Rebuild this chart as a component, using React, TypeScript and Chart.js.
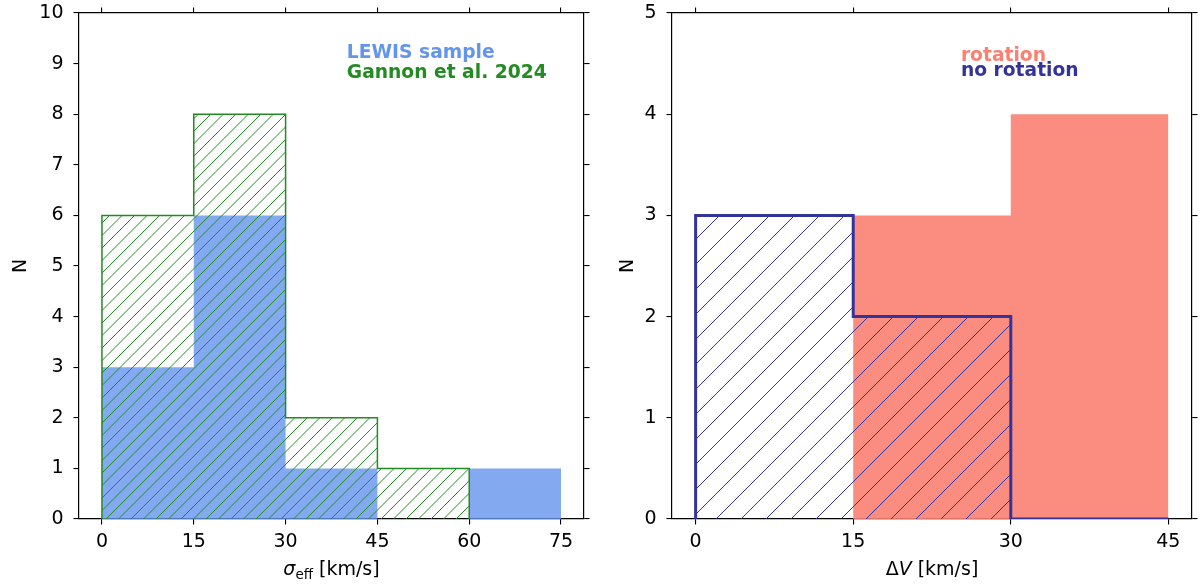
import { useEffect, useRef } from 'react';
import { Chart, registerables } from 'chart.js';

Chart.register(...registerables);

const FONT = 'DejaVu Sans';

// left panel: sigma_eff histograms (bin edges + counts per bin)
const sigmaEdges = [0, 15, 30, 45, 60, 75];
const lewisCounts = [3, 6, 1, 0, 1];
const gannonEdges = [0, 15, 30, 45, 60];
const gannonCounts = [6, 8, 2, 1];
const sigmaTicks = [0, 15, 30, 45, 60, 75];
const leftCountTicks = [0, 1, 2, 3, 4, 5, 6, 7, 8, 9, 10];

// right panel: delta V histograms
const dvEdges = [0, 15, 30, 45];
const rotationCounts = [0, 3, 4];
const noRotationCounts = [3, 2, 0];
const dvTicks = [0, 15, 30, 45];
const rightCountTicks = [0, 1, 2, 3, 4, 5];

const BLUE = '#6495ED';
const GREEN = '#228B22';
const SALMON = '#FA8072';
const NAVY = '#33339a';

// outline of a matplotlib-style step histogram
function stepPoints(edges: number[], counts: number[]) {
  const pts = [{ x: edges[0], y: 0 }];
  counts.forEach((c, i) => {
    pts.push({ x: edges[i], y: c });
    pts.push({ x: edges[i + 1], y: c });
  });
  pts.push({ x: edges[edges.length - 1], y: 0 });
  return pts;
}

// '/' hatch pattern, lines every `spacing` px
function hatch(color: string, spacing: number, width: number) {
  const tile = 25;
  const c = document.createElement('canvas');
  c.width = tile;
  c.height = tile;
  const g = c.getContext('2d')!;
  g.strokeStyle = color;
  g.lineWidth = width;
  g.beginPath();
  for (let k = 0; k <= (2 * tile) / spacing; k++) {
    const d = k * spacing; // line x + y = d
    g.moveTo(d - tile, tile);
    g.lineTo(d, 0);
  }
  g.stroke();
  return g.createPattern(c, 'repeat');
}

type Part = { text: string; font: string; dy?: number };
type Note = { text: string; color: string; x: number; y: number };

const notesPlugin = (notes: Note[], title: Part[]) => ({
  id: 'notes',
  afterDraw(chart: any) {
    const { ctx, scales, chartArea } = chart;
    ctx.save();
    ctx.textAlign = 'left';
    ctx.textBaseline = 'alphabetic';
    ctx.font = `bold 18.7px "${FONT}"`;
    notes.forEach((n) => {
      ctx.fillStyle = n.color;
      ctx.fillText(n.text, scales.x.getPixelForValue(n.x), scales.y.getPixelForValue(n.y));
    });
    let w = 0;
    title.forEach((p) => {
      ctx.font = p.font;
      w += ctx.measureText(p.text).width;
    });
    let x = (chartArea.left + chartArea.right) / 2 - w / 2;
    const y = chartArea.bottom + 56;
    ctx.fillStyle = '#000';
    title.forEach((p) => {
      ctx.font = p.font;
      ctx.fillText(p.text, x, y + (p.dy || 0));
      x += ctx.measureText(p.text).width;
    });
    ctx.restore();
  },
});

function makeScales(
  xMin: number, xMax: number, xTicks: number[],
  yMax: number, yTicks: number[],
  leftW: number, rightW: number, titlePad: number,
) {
  const grid = { drawOnChartArea: false, drawTicks: true, tickLength: 5.5, color: '#000', lineWidth: 1.1 };
  const border = { display: true, color: '#000', width: 1.2 };
  const tickFont = { family: FONT, size: 19 };
  const setTicks = (vals: number[]) => (axis: any) => {
    axis.ticks = vals.map((v) => ({ value: v }));
  };
  const size = (key: 'width' | 'height', v: number) => (axis: any) => {
    axis[key] = v;
    axis.paddingLeft = axis.paddingRight = axis.paddingTop = axis.paddingBottom = 0;
  };
  return {
    x: {
      type: 'linear', position: 'bottom', min: xMin, max: xMax,
      afterBuildTicks: setTicks(xTicks),
      ticks: { color: '#000', font: tickFont, padding: 6, maxRotation: 0, autoSkip: false },
      grid, border, z: 1, afterFit: size('height', 66),
    },
    x2: {
      type: 'linear', position: 'top', min: xMin, max: xMax,
      afterBuildTicks: setTicks(xTicks),
      ticks: { display: false },
      grid, border, z: 1, afterFit: size('height', 13),
    },
    y: {
      type: 'linear', position: 'left', min: 0, max: yMax,
      afterBuildTicks: setTicks(yTicks),
      ticks: { color: '#000', font: tickFont, padding: 10, autoSkip: false },
      title: { display: true, text: 'N', color: '#000', font: { family: FONT, size: 19 }, padding: { top: titlePad, bottom: 0 } },
      grid, border, z: 1, afterFit: size('width', leftW),
    },
    y2: {
      type: 'linear', position: 'right', min: 0, max: yMax,
      afterBuildTicks: setTicks(yTicks),
      ticks: { display: false },
      grid, border, z: 1, afterFit: size('width', rightW),
    },
  };
}

const baseOptions = {
  responsive: false,
  animation: false,
  layout: { padding: 0 },
  elements: { point: { radius: 0 }, line: { tension: 0, borderJoinStyle: 'miter' } },
  plugins: { legend: { display: false }, tooltip: { enabled: false } },
};

function leftConfig(): any {
  return {
    type: 'line',
    data: {
      datasets: [
        {
          label: 'Gannon et al. 2024',
          data: stepPoints(gannonEdges, gannonCounts),
          borderColor: GREEN, borderWidth: 1.5,
          backgroundColor: hatch(GREEN, 12.5, 1),
          fill: 'origin', order: 0,
        },
        {
          label: 'LEWIS sample',
          data: stepPoints(sigmaEdges, lewisCounts),
          borderColor: 'transparent', borderWidth: 0,
          backgroundColor: 'rgba(100,149,237,0.8)',
          fill: 'origin', order: 1,
        },
      ],
    },
    options: { ...baseOptions, scales: makeScales(-3.75, 78.75, sigmaTicks, 10, leftCountTicks, 79, 26, 10) },
    plugins: [
      notesPlugin(
        [
          { text: 'LEWIS sample', color: BLUE, x: 40, y: 9.11 },
          { text: 'Gannon et al. 2024', color: GREEN, x: 40, y: 8.71 },
        ],
        [
          { text: 'σ', font: `italic 19px "${FONT}"` },
          { text: 'eff', font: `13.5px "${FONT}"`, dy: 4 },
          { text: ' [km/s]', font: `19px "${FONT}"` },
        ],
      ),
    ],
  };
}

function rightConfig(): any {
  return {
    type: 'line',
    data: {
      datasets: [
        {
          label: 'no rotation',
          data: stepPoints(dvEdges, noRotationCounts),
          borderColor: NAVY, borderWidth: 3,
          backgroundColor: hatch(NAVY, 25, 1),
          fill: 'origin', order: 0,
        },
        {
          label: 'rotation',
          data: stepPoints(dvEdges, rotationCounts),
          borderColor: 'transparent', borderWidth: 0,
          backgroundColor: 'rgba(250,128,114,0.9)',
          fill: 'origin', order: 1,
        },
      ],
    },
    options: { ...baseOptions, scales: makeScales(-2.25, 47.25, dvTicks, 5, rightCountTicks, 62, 8, 7) },
    plugins: [
      notesPlugin(
        [
          { text: 'rotation', color: SALMON, x: 25.25, y: 4.53 },
          { text: 'no rotation', color: NAVY, x: 25.25, y: 4.38 },
        ],
        [
          { text: 'Δ', font: `19px "${FONT}"` },
          { text: 'V', font: `italic 19px "${FONT}"` },
          { text: ' [km/s]', font: `19px "${FONT}"` },
        ],
      ),
    ],
  };
}

function Panel({ config, left, width }: { config: () => any; left: number; width: number }) {
  const ref = useRef<HTMLCanvasElement>(null);
  useEffect(() => {
    if (!ref.current) return;
    const chart = new Chart(ref.current, config());
    return () => chart.destroy();
  }, []);
  return (
    <canvas
      ref={ref}
      width={width}
      height={585}
      style={{ position: 'absolute', left, top: 0, width, height: 585 }}
    />
  );
}

export default function App() {
  useEffect(() => {
    document.body.style.margin = '0';
    Chart.defaults.font.family = FONT;
  }, []);
  return (
    <div style={{ position: 'absolute', left: 0, top: 0, width: 1200, height: 585, background: '#fff' }}>
      <Panel config={leftConfig} left={0} width={610} />
      <Panel config={rightConfig} left={610} width={590} />
    </div>
  );
}
